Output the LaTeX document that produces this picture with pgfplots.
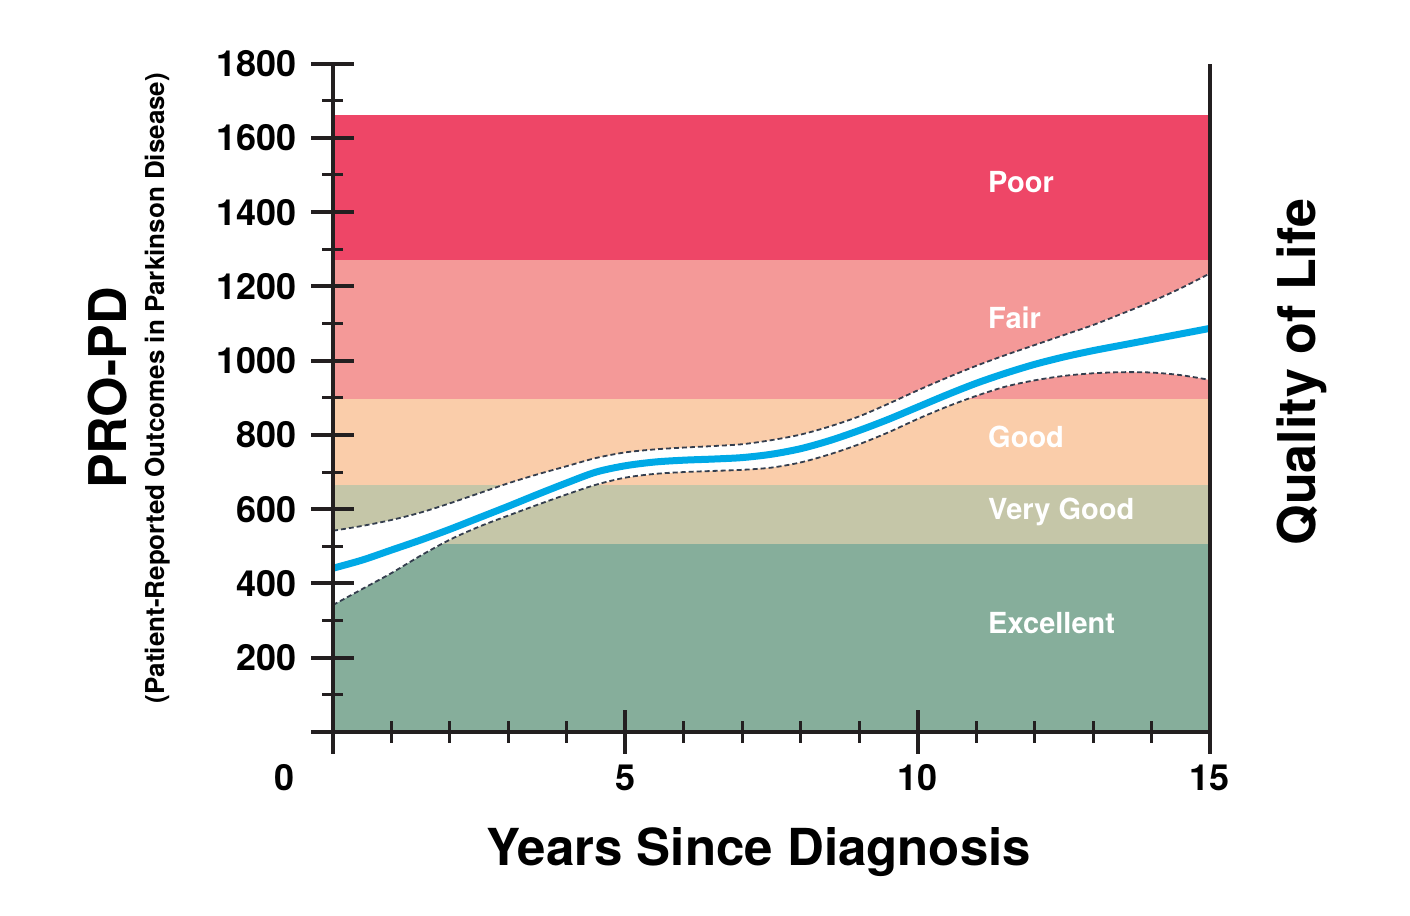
\documentclass[border=0pt]{standalone}
\usepackage{fontspec}
\setmainfont{TeX Gyre Heros}
\usepackage{pgfplots}
\pgfplotsset{compat=1.18}
\usepackage{pgfplotstable}
\definecolor{cpoor}{RGB}{238,70,103}
\definecolor{cfair}{RGB}{244,153,152}
\definecolor{cgood}{RGB}{250,205,170}
\definecolor{cvgood}{RGB}{197,198,168}
\definecolor{cexc}{RGB}{134,174,155}
\definecolor{cblue}{RGB}{0,169,230}
\definecolor{cdash}{RGB}{52,62,78}
\definecolor{caxis}{RGB}{35,31,32}
% PRO-PD score over time: mean and confidence bounds
\pgfplotstableread{
x mean upper lower
0 441 542 342
0.5 463 555 385
1 490 571 428
1.5 517 591 475
2 546 616 518
2.5 577 643 553
3 608 670 583
3.5 640 694 612
4 671 716 640
4.5 700 738 666
5 717 753 685
5.5 727 761 695
6 732 766 700
6.5 735 770 703
7 739 775 706
7.5 748 786 712
8 763 801 726
8.5 785 823 748
9 812 850 775
9.5 842 884 807
10 875 920 843
10.5 908 954 876
11 939 986 905
11.5 966 1015 930
12 990 1042 947
12.5 1010 1069 959
13 1027 1096 966
13.5 1042 1127 969
14 1057 1159 968
14.5 1072 1195 961
15 1087 1235 948
}\curvedata
% confidence region outline: upper bound forward, lower bound back
\pgfplotstableread{
x y
0 542
0.5 555
1 571
1.5 591
2 616
2.5 643
3 670
3.5 694
4 716
4.5 738
5 753
5.5 761
6 766
6.5 770
7 775
7.5 786
8 801
8.5 823
9 850
9.5 884
10 920
10.5 954
11 986
11.5 1015
12 1042
12.5 1069
13 1096
13.5 1127
14 1159
14.5 1195
15 1235
15 948
14.5 961
14 968
13.5 969
13 966
12.5 959
12 947
11.5 930
11 905
10.5 876
10 843
9.5 807
9 775
8.5 748
8 726
7.5 712
7 706
6.5 703
6 700
5.5 695
5 685
4.5 666
4 640
3.5 612
3 583
2.5 553
2 518
1.5 475
1 428
0.5 385
0 342
}\regiondata
\begin{document}
\begin{tikzpicture}
\path[use as bounding box] (-166.5pt,-92pt) rectangle (538.5pt,366pt);
\begin{axis}[
  at={(0,0)}, anchor=south west,
  scale only axis, width=438.5pt, height=334.2pt,
  xmin=0, xmax=15, ymin=0, ymax=1800,
  axis on top,
  axis x line*=bottom, axis y line*=left,
  axis line style={line width=2pt, color=caxis},
  xtick={5,10,15},
  extra x ticks={0},
  extra x tick style={xticklabel style={xshift=-24pt}},
  minor xtick={1,2,3,4,6,7,8,9,11,12,13,14},
  ytick={0,200,...,1800},
  yticklabels={,200,400,600,800,1000,1200,1400,1600,1800},
  minor ytick={100,300,...,1700},
  tick align=center,
  major tick length=21.5pt,
  minor tick length=10.5pt,
  major tick style={line width=2pt, color=caxis},
  minor tick style={line width=1.5pt, color=caxis},
  /pgf/number format/assume math mode=true,
  ticklabel style={font=\fontsize{18}{20}\selectfont\bfseries, text=black},
  yticklabel style={xshift=-4pt},
  xticklabel style={yshift=-2pt},
]
% quality bands (stacked from the top band down)
\addplot[fill=cpoor, draw=none] coordinates {(0,1661) (15,1661)} \closedcycle;
\addplot[fill=cfair, draw=none] coordinates {(0,1272) (15,1272)} \closedcycle;
\addplot[fill=cgood, draw=none] coordinates {(0,898) (15,898)} \closedcycle;
\addplot[fill=cvgood, draw=none] coordinates {(0,665) (15,665)} \closedcycle;
\addplot[fill=cexc, draw=none] coordinates {(0,505) (15,505)} \closedcycle;
% confidence region
\addplot[fill=white, draw=none] table[x=x, y=y]{\regiondata};
\addplot[smooth, color=cdash, line width=0.9pt, dash pattern=on 2.5pt off 1.5pt] table[x=x, y=upper]{\curvedata};
\addplot[smooth, color=cdash, line width=0.9pt, dash pattern=on 2.5pt off 1.5pt] table[x=x, y=lower]{\curvedata};
\addplot[smooth, color=cblue, line width=3.5pt] table[x=x, y=mean]{\curvedata};
% band labels
\begin{scope}[every node/.style={anchor=west, inner sep=0pt, text=white, font=\fontsize{14.5}{16}\selectfont\bfseries}]
\node at (axis cs:11.2,1481) {Poor};
\node at (axis cs:11.2,1115) {Fair};
\node at (axis cs:11.2,794) {Good};
\node at (axis cs:11.2,592) {Very Good};
\node at (axis cs:11.2,293) {Excellent};
\end{scope}
\coordinate (RB) at (axis cs:15,0);
\coordinate (RT) at (axis cs:15,1800);
\end{axis}
\draw[line width=2pt, caxis] (RB) -- (RT);
\node[font=\fontsize{25.5}{28}\selectfont\bfseries] at (213pt,-60pt) {Years Since Diagnosis};
\node[font=\fontsize{26}{28}\selectfont\bfseries, rotate=90] at (484.5pt,180pt) {Quality of Life};
\node[font=\fontsize{26}{28}\selectfont\bfseries, rotate=90] at (-112.5pt,172pt) {PRO-PD};
\node[font=\fontsize{13}{15}\selectfont\bfseries, rotate=90] at (-87.5pt,172pt) {(Patient-Reported Outcomes in Parkinson Disease)};
\end{tikzpicture}
\end{document}
